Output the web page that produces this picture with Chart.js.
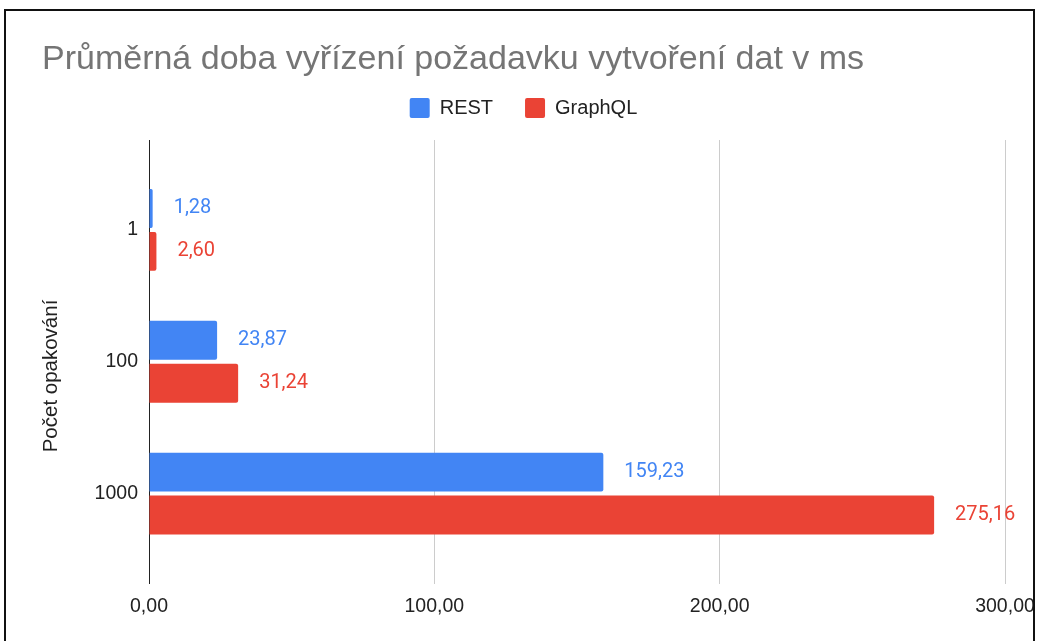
<!DOCTYPE html>
<html>
<head>
<meta charset="utf-8">
<script src="https://cdn.jsdelivr.net/npm/chart.js@4.4.1/dist/chart.umd.min.js"></script>
<style>
  html, body { margin: 0; padding: 0; background: #ffffff; overflow: hidden; }
  #wrap { position: relative; width: 1037px; height: 641px; overflow: hidden; }
  #frame { position: absolute; left: 4px; top: 9px; width: 1027px; height: 700px; border: 2px solid #111; z-index: 2; pointer-events: none; }
  canvas { position: absolute; left: 0; top: 0; z-index: 1; }
</style>
</head>
<body>
<div id="wrap">
  <div id="frame"></div>
  <canvas id="c" width="1047" height="641"></canvas>
</div>
<script>
const chartTitle = 'Průměrná doba vyřízení požadavku vytvoření dat v ms';
const yAxisTitle = 'Počet opakování';
const categories = ['1', '100', '1000'];
const seriesNames = ['REST', 'GraphQL'];
const restValues = [1.28, 23.87, 159.23];
const graphqlValues = [2.60, 31.24, 275.16];
const xTicks = [0, 100, 200, 300];
const seriesColors = ['#4285F4', '#EA4335'];

const fmt = v => v.toFixed(2).replace('.', ',');
const toPoints = vals => vals.map((v, i) => ({ x: v, y: i }));

const valueLabels = {
  id: 'valueLabels',
  afterDatasetsDraw(chart) {
    const ctx = chart.ctx;
    ctx.save();
    ctx.font = '20px Roboto, "Liberation Sans", sans-serif';
    ctx.textBaseline = 'middle';
    ctx.textAlign = 'left';
    chart.data.datasets.forEach((ds, di) => {
      const meta = chart.getDatasetMeta(di);
      ctx.fillStyle = ds.backgroundColor;
      meta.data.forEach((bar, i) => {
        ctx.fillText(fmt(ds.data[i].x), bar.x + 21, bar.y);
      });
    });
    ctx.restore();
  }
};

const legendSpacing = {
  id: 'legendSpacing',
  beforeInit(chart) {
    const orig = chart.legend.fit;
    chart.legend.fit = function () { orig.call(this); this.height += 12; };
  }
};

const FONT = '"Liberation Sans", Arial, sans-serif';

new Chart(document.getElementById('c'), {
  type: 'bar',
  data: {
    datasets: [
      { label: seriesNames[0], data: toPoints(restValues), backgroundColor: seriesColors[0], borderRadius: 2 },
      { label: seriesNames[1], data: toPoints(graphqlValues), backgroundColor: seriesColors[1], borderRadius: 2 }
    ]
  },
  options: {
    responsive: false,
    animation: false,
    indexAxis: 'y',
    categoryPercentage: 0.6515,
    barPercentage: 0.907,
    layout: { padding: { top: 0, left: 42, right: 42, bottom: 10.5 } },
    scales: {
      x: {
        type: 'linear',
        min: xTicks[0],
        max: xTicks[xTicks.length - 1],
        afterBuildTicks: s => { s.ticks = xTicks.map(v => ({ value: v })); },
        grid: { color: '#cccccc', lineWidth: 1, drawTicks: false },
        border: { display: false },
        ticks: { padding: 11.8, color: '#222', font: { family: FONT, size: 19.5 }, callback: v => fmt(v) }
      },
      y: {
        type: 'linear',
        offset: false,
        reverse: true,
        min: -0.682,
        max: 2.682,
        afterFit: s => { s.width = 107; },
        afterBuildTicks: s => { s.ticks = categories.map((c, i) => ({ value: i })); },
        grid: { display: false, drawTicks: false, offset: false },
        border: { display: true, color: '#222', width: 1 },
        ticks: { padding: 11, color: '#222', font: { family: FONT, size: 19.5 }, autoSkip: false, callback: v => categories[v] },
        title: { display: true, text: yAxisTitle + '     ', color: '#222', font: { family: FONT, size: 20.5 }, padding: { top: -3, bottom: 0 } }
      }
    },
    plugins: {
      title: {
        display: true,
        text: chartTitle,
        align: 'start',
        color: '#757575',
        font: { family: FONT, size: 34, weight: 'normal' },
        padding: { top: 38.8, bottom: -13.6 }
      },
      legend: {
        position: 'top',
        labels: {
          boxWidth: 20, boxHeight: 20, padding: 32,
          useBorderRadius: true, borderRadius: 2,
          color: '#222', font: { family: FONT, size: 20 }
        }
      },
      tooltip: { enabled: false }
    }
  },
  plugins: [valueLabels, legendSpacing]
});
</script>
</body>
</html>
